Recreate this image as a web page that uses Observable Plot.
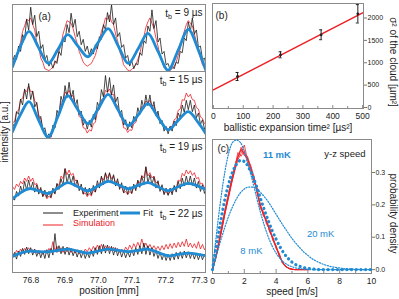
<!DOCTYPE html>
<html><head><meta charset="utf-8">
<script src="https://cdn.jsdelivr.net/npm/d3@7"></script>
<script src="https://cdn.jsdelivr.net/npm/@observablehq/plot@0.6"></script>
<style>
body{margin:0;background:#fff;}
#root{position:relative;width:399px;height:299px;overflow:hidden;background:#fff;font-family:"Liberation Sans",Arial,Helvetica,sans-serif;}
#root svg{overflow:visible;}
#root text, #root tspan{font-family:"Liberation Sans",Arial,Helvetica,sans-serif;}
.abs{position:absolute;}
#pb [aria-label="y-axis tick label"], #pc [aria-label="y-axis tick label"]{font-size:7px;}
[aria-label="y-axis tick"], [aria-label="x-axis tick"]{color:#777;}
</style></head><body>
<div id="root">
 <div id="pa" class="abs" style="left:0;top:0"></div>
 <div id="pb" class="abs" style="left:200px;top:0"></div>
 <div id="pc" class="abs" style="left:200px;top:135px"></div>
 <svg id="ov" class="abs" style="left:0;top:0;pointer-events:none" width="399" height="299"></svg>
</div>
<script>
const FONT = '"Liberation Sans", Arial, Helvetica, sans-serif';
const BLUE = "#1f8bd3";
const RED = "#ec2027";
const GRAY = "#8a8a8a";

// ---------- Panel (a): intensity vs position ----------
const tbLabels = ["9", "15", "19", "22"];
const posDomain = [76.745, 77.318];
const posTicks = [76.8, 76.9, 77.0, 77.1, 77.2, 77.3];
const posGrid = [
76.745,76.751,76.757,76.763,76.769,76.775,76.781,76.787,76.793,76.799,
76.805,76.811,76.817,76.823,76.829,76.835,76.841,76.847,76.853,76.859,
76.865,76.871,76.877,76.883,76.889,76.895,76.901,76.907,76.913,76.919,
76.925,76.931,76.937,76.943,76.949,76.955,76.961,76.967,76.973,76.979,
76.985,76.991,76.997,77.003,77.009,77.015,77.021,77.027,77.033,77.039,
77.045,77.051,77.057,77.063,77.069,77.075,77.081,77.087,77.093,77.099,
77.105,77.111,77.117,77.123,77.129,77.135,77.141,77.147,77.153,77.159,
77.165,77.171,77.177,77.183,77.189,77.195,77.201,77.207,77.213,77.219,
77.225,77.231,77.237,77.243,77.249,77.255,77.261,77.267,77.273,77.279,
77.285,77.291,77.297,77.303,77.309,77.315,77.321];

const exp9 = [
14,24,18,38,30,55,48,78,62,96, 70,84,52,60,34,40,18,24,8,14,
5,16,12,30,24,48,44,70,58,87, 66,78,52,60,40,48,30,38,24,34,
26,40,34,52,48,70,62,88,74,100, 70,80,52,58,36,40,20,24,8,16,
4,12,10,28,24,46,42,68,60,92, 64,76,44,50,26,30,10,12,2,8,
4,14,12,30,28,50,46,74,60,80, 56,62,36,38,18,20,6];
const sim9 = [
8,14,22,34,44,60,68,78,76,80, 70,62,44,36,20,14,4,3,1,4,
6,12,16,30,40,56,66,76,74,72, 64,52,42,30,22,14,10,8,10,12,
18,24,36,46,60,68,80,78,84,74, 70,56,46,30,22,10,6,2,1,3,
6,10,18,26,42,52,66,74,80,72, 64,50,38,24,16,6,3,1,2,4,
8,14,24,34,48,60,70,76,72,68, 56,44,30,20,10,6,3];
const exp15 = [
23,17,40,36,59,50,74,59,82,58, 71,47,54,29,33,12,16,2,7,2,
20,16,42,35,63,53,79,61,84,60, 72,48,58,35,41,20,28,14,27,17,
36,28,54,46,73,62,94,69,91,65, 80,54,62,37,42,20,28,13,25,16,
33,26,46,36,57,45,65,49,65,44, 55,34,41,22,27,11,18,7,18,11,
26,19,38,31,50,39,57,43,57,40, 50,31,38,21,28,14,20];
const sim15 = [
24,25,40,42,58,60,72,70,78,70, 70,56,52,35,29,13,9,1,2,2,
13,17,33,38,54,57,69,67,72,63, 64,50,48,33,30,16,15,8,13,11,
22,24,40,43,58,60,72,69,74,65, 66,52,49,34,30,16,15,9,13,12,
22,24,35,37,48,48,56,53,57,49, 49,38,37,26,25,16,17,13,18,18,
28,30,42,44,58,57,68,62,66,58, 57,46,44,32,30,22,22];
const exp19 = [
14,8,21,14,29,19,36,23,38,24, 35,20,31,17,27,13,23,12,21,12,
26,17,33,24,40,30,55,33,47,32, 44,28,38,22,32,17,27,15,26,16,
30,20,37,26,44,31,49,34,49,34, 46,29,40,24,34,19,29,17,28,18,
32,22,38,27,44,31,58,33,46,31, 43,26,37,21,31,16,26,15,26,16,
30,20,36,25,41,29,44,31,44,30, 41,26,36,21,31,18,27];
const sim19 = [
28,24,32,28,36,32,41,36,44,36, 41,31,33,23,24,14,17,10,14,11,
21,19,32,30,44,40,55,46,53,45, 48,37,38,27,27,17,19,13,18,14,
23,20,32,30,42,38,48,41,48,40, 44,34,36,27,28,19,21,16,21,18,
28,25,36,34,45,41,57,44,49,41, 44,34,35,25,26,18,21,16,21,19,
28,26,38,36,48,44,53,47,52,45, 49,40,42,32,33,26,28];
const exp22 = [
22,30,20,32,24,36,27,38,28,37, 26,35,24,33,22,32,21,34,22,36,
26,58,30,40,28,39,27,38,26,36, 25,34,23,33,22,31,21,30,22,33,
24,37,27,40,28,42,29,41,28,39, 26,37,25,34,23,32,22,31,23,34,
25,37,27,40,28,44,27,40,26,37, 24,33,21,30,19,28,18,27,18,28,
19,30,20,31,21,32,22,31,21,30, 20,29,19,28,19,27,20];
const sim22 = [
28,25,33,29,35,30,36,32,37,31, 34,29,33,28,31,27,33,29,36,31,
46,33,39,31,37,30,36,31,37,30, 35,29,34,28,33,29,35,31,37,32,
39,33,41,34,42,34,40,33,39,32, 38,31,36,30,35,31,38,33,41,35,
43,37,45,38,50,38,44,36,42,35, 40,34,39,33,40,34,42,35,43,36,
44,37,45,38,46,39,50,38,44,37, 43,36,46,35,42,34,39];

const posFit = [76.745,76.769,76.794,76.822,76.851,76.880,76.909,76.939,76.969,76.999,
77.029,77.059,77.089,77.118,77.147,77.177,77.207,77.237,77.267,77.296,77.318];
const fit9  = [7,38,60,36,12,33,55,38,22,43,64,38,12,34,57,30,2,32,63,33,3];
const fit15 = [10,36,55,28,2,33,64,43,22,44,66,42,19,35,52,32,13,27,40,24,8];
const fit19 = [10,19,25,22,18,26,34,28,22,29,36,31,25,30,34,28,22,28,33,29,24];
const fit22 = [24,29,32,31,31,33,35,32,29,32,35,33,31,33,35,30,25,27,29,27,25];

// ---------- Panel (b): sigma^2 vs t^2 ----------
const tSq = [81, 225, 361, 484];
const sigma2 = [693, 1178, 1625, 2094];
const sigma2Err = [90, 67, 110, 205];
const fitTSq = [0, 500];
const fitSigma2 = [396, 2116];
const bXTicks = [0, 100, 200, 300, 400, 500];
const bXMinor = [50, 150, 250, 350, 450];
const bYTicks = [0, 500, 1000, 1500, 2000];

// ---------- Panel (c): speed distributions ----------
const speedGrid = [0,0.25,0.5,0.75,1,1.25,1.5,1.75,2,2.25,2.5,2.75,3,3.25,3.5,3.75,4,4.25,4.5,4.75,
5,5.25,5.5,5.75,6,6.25,6.5,6.75,7,7.25,7.5,7.75,8,8.25,8.5,8.75,9,9.25,9.5,9.75,10];
const mb8 = [0,0.110,0.210,0.294,0.356,0.392,0.400,0.393,0.365,0.325,0.277,0.228,0.180,0.138,0.102,0.073,0.051,0.034,0.022,0.014,
0.009,0.005,0.003,0.002,0.001,0,0,0,0,0,0,0,0,0,0,0,0,0,0,0,0];
const mb11 = [0,0.075,0.145,0.21,0.262,0.30,0.325,0.337,0.334,0.318,0.292,0.26,0.222,0.186,0.152,0.121,0.094,0.07,0.05,0.035,
0.023,0.015,0.01,0.006,0.004,0.002,0.001,0,0,0,0,0,0,0,0,0,0,0,0,0,0];
const mb20 = [0,0.044,0.087,0.127,0.163,0.193,0.218,0.237,0.249,0.255,0.255,0.250,0.239,0.226,0.210,0.191,0.171,0.151,0.132,0.114,
0.096,0.081,0.067,0.054,0.044,0.034,0.027,0.021,0.016,0.012,0.009,0.007,0.005,0.003,0.002,0.002,0.001,0.001,0,0,0];
const simSpeed = [0,0.2,0.4,0.6,0.8,1,1.2,1.4,1.6,1.8,2,2.2,2.4,2.6,2.8,3,3.2,3.4,3.6,3.8,4,4.2,4.4,4.6,4.8,5,5.2,5.4,5.6,5.8,6];
const simRun1 = [0,0.04,0.09,0.14,0.19,0.235,0.28,0.32,0.35,0.37,0.36,0.345,0.31,0.28,0.245,0.2,0.17,0.15,0.12,0.095,0.07,0.045,0.022,0.01,0.004,0.001,0,0,0,0,0];
const simRun2 = [0,0.033,0.08,0.128,0.178,0.222,0.272,0.312,0.345,0.378,0.352,0.35,0.318,0.27,0.25,0.19,0.175,0.14,0.125,0.09,0.075,0.04,0.025,0.008,0.005,0.001,0,0,0,0,0];
const simRun3 = [0,0.038,0.085,0.135,0.185,0.23,0.275,0.318,0.362,0.35,0.368,0.33,0.305,0.285,0.24,0.205,0.165,0.155,0.115,0.1,0.065,0.05,0.02,0.012,0.003,0.002,0,0,0,0,0];
const simRun4 = [0,0.036,0.082,0.13,0.18,0.225,0.268,0.305,0.34,0.36,0.385,0.34,0.315,0.275,0.255,0.195,0.18,0.145,0.13,0.092,0.068,0.042,0.024,0.009,0.004,0,0,0,0,0,0];
const simRun5 = [0,0.034,0.078,0.126,0.176,0.22,0.265,0.308,0.35,0.372,0.355,0.342,0.322,0.29,0.235,0.2,0.172,0.148,0.118,0.098,0.072,0.048,0.02,0.011,0.003,0.001,0,0,0,0,0];
const cXTicks = [0, 2, 4, 6, 8, 10];
const cXMinor = [1, 3, 5, 7, 9];
const cYTicks = [0, 0.1, 0.2, 0.3];
const tempLabels = ["8 mK", "11 mK", "20 mK"];
const tempLabelX = [2.45, 4.05, 6.8];
const tempLabelY = [0.058, 0.355, 0.11];
const tempLabelBold = [false, true, false];

// ---------- build tables ----------
const expBy = {"9": exp9, "15": exp15, "19": exp19, "22": exp22};
const simBy = {"9": sim9, "15": sim15, "19": sim19, "22": sim22};
const fitBy = {"9": fit9, "15": fit15, "19": fit19, "22": fit22};
const rows = (grid, by) => tbLabels.flatMap(tb => by[tb].map((v, i) => ({tb, pos: grid[i], v})));
const expRows = rows(posGrid, expBy);
const simRows = rows(posGrid, simBy);
const fitRows = rows(posFit, fitBy);
const tbRows = tbLabels.map(tb => ({tb, label: "t_b = " + tb + " µs"}));

const plotA = Plot.plot({
  width: 212, height: 299,
  marginLeft: 12, marginRight: 7, marginTop: 3, marginBottom: 26,
  style: {fontFamily: FONT, fontSize: "8.5px", color: "#222", background: "transparent"},
  x: {domain: posDomain, ticks: posTicks, tickFormat: d3.format(".1f"), tickSize: 0, tickPadding: 4, label: null},
  y: {domain: [0, 100], axis: null},
  fy: {domain: tbLabels, axis: null, padding: 0},
  marks: [
    Plot.line(simRows, {x: "pos", y: "v", fy: "tb", stroke: RED, strokeWidth: 0.8, clip: true}),
    Plot.line(expRows, {x: "pos", y: "v", fy: "tb", stroke: "#1a1a1a", strokeWidth: 0.8, clip: true}),
    Plot.line(fitRows, {x: "pos", y: "v", fy: "tb", stroke: BLUE, strokeWidth: 2.8, curve: "catmull-rom", clip: true}),
    Plot.frame({stroke: GRAY}),
    Plot.text(tbRows, {fy: "tb", text: "label", frameAnchor: "top-right", lineAnchor: "middle", dx: -3, dy: 9, fontSize: 10}),
    Plot.text([{tb: "9", label: "(a)"}], {fy: "tb", text: "label", frameAnchor: "top-left", lineAnchor: "middle", textAnchor: "start", dx: 26, dy: 12, fontSize: 10}),
    Plot.text([{tb: "22", label: "position [mm]"}], {fy: "tb", text: "label", frameAnchor: "bottom", lineAnchor: "middle", dy: 18, fontSize: 10})
  ]
});
document.getElementById("pa").appendChild(plotA);

// subscript b in t_b
d3.select(plotA).selectAll("text").each(function() {
  const s = this.textContent;
  if (s.startsWith("t_b")) {
    const el = d3.select(this);
    el.text(null);
    el.append("tspan").text("t");
    el.append("tspan").attr("dy", "0.3em").attr("font-size", "70%").text("b");
    el.append("tspan").attr("dy", "-0.3em").text(s.slice(3));
  }
});

const pointsB = tSq.map((t, i) => ({t, s: sigma2[i], e: sigma2Err[i]}));
const fitB = fitTSq.map((t, i) => ({t, s: fitSigma2[i]}));
const plotB = Plot.plot({
  width: 199, height: 135,
  marginLeft: 12, marginRight: 36, marginTop: 3, marginBottom: 27,
  style: {fontFamily: FONT, fontSize: "8.5px", color: "#222", background: "transparent"},
  x: {domain: [-3, 503], ticks: bXTicks, tickFormat: d3.format("d"), tickSize: 0, tickPadding: 4, label: null},
  y: {domain: [-22, 2324], axis: "right", ticks: bYTicks, tickFormat: d3.format("d"), tickSize: 3, tickPadding: 1, label: null},
  marks: [
    Plot.frame({stroke: GRAY}),
    Plot.tickX(bXTicks, {x: d => d, insetTop: 102, stroke: GRAY}),
    Plot.tickX(bXMinor, {x: d => d, insetTop: 103, stroke: GRAY}),
    Plot.line(fitB, {x: "t", y: "s", stroke: RED, strokeWidth: 1.5}),
    Plot.ruleX(pointsB, {x: "t", y1: d => d.s - d.e, y2: d => d.s + d.e, stroke: "#222", strokeWidth: 1}),
    Plot.ruleY(pointsB, {y: d => d.s - d.e, x1: d => d.t - 5, x2: d => d.t + 5, stroke: "#222", strokeWidth: 1}),
    Plot.ruleY(pointsB, {y: d => d.s + d.e, x1: d => d.t - 5, x2: d => d.t + 5, stroke: "#222", strokeWidth: 1}),
    Plot.dot(pointsB, {x: "t", y: "s", r: 1.4, fill: "#222"}),
    Plot.text(["(b)"], {text: d => d, frameAnchor: "top-left", textAnchor: "start", lineAnchor: "middle", dx: 3, dy: 12, fontSize: 10}),
    Plot.text(["σ² of the cloud [µm²]"], {text: d => d, frameAnchor: "right", textAnchor: "middle", lineAnchor: "middle", rotate: 90, dx: 30, dy: 6, fontSize: 10}),
    Plot.text(["ballistic expansion time² [µs²]"], {text: d => d, frameAnchor: "bottom", lineAnchor: "middle", dy: 19, fontSize: 10})
  ]
});
document.getElementById("pb").appendChild(plotB);

const simRuns = [simRun1, simRun2, simRun3, simRun4, simRun5];
const simCRows = simRuns.flatMap((run, k) => run.map((p, i) => ({run: k, v: simSpeed[i], p})));
const mbRows = arr => arr.map((p, i) => ({v: speedGrid[i], p}));
const annC = tempLabels.map((t, i) => ({t, x: tempLabelX[i], y: tempLabelY[i], bold: tempLabelBold[i]}));
const plotC = Plot.plot({
  width: 199, height: 164,
  marginLeft: 12, marginRight: 28, marginTop: 4, marginBottom: 26,
  style: {fontFamily: FONT, fontSize: "8.5px", color: "#222", background: "transparent"},
  x: {domain: [0, 10], ticks: cXTicks, tickSize: 0, tickPadding: 4, label: null},
  y: {domain: [-0.012, 0.402], axis: "right", ticks: cYTicks, tickFormat: d3.format(".1f"), tickSize: 3, tickPadding: 1, label: null},
  marks: [
    Plot.frame({stroke: GRAY}),
    Plot.tickX(cXTicks, {x: d => d, insetTop: 130, stroke: GRAY}),
    Plot.tickX(cXMinor, {x: d => d, insetTop: 132, stroke: GRAY}),
    Plot.line(simCRows, {x: "v", y: "p", z: "run", stroke: RED, strokeWidth: 0.8}),
    Plot.line(mbRows(mb8), {x: "v", y: "p", stroke: BLUE, strokeWidth: 1.2, strokeDasharray: "1.2,1.6", curve: "monotone-x"}),
    Plot.line(mbRows(mb20), {x: "v", y: "p", stroke: BLUE, strokeWidth: 1.2, strokeDasharray: "1.2,1.6", curve: "monotone-x"}),
    Plot.line(mbRows(mb11), {x: "v", y: "p", stroke: BLUE, strokeWidth: 3.2, strokeDasharray: "0.1,4.6", strokeLinecap: "round", curve: "monotone-x"}),
    Plot.text(annC.filter(d => !d.bold), {x: "x", y: "y", text: "t", fill: BLUE, fontSize: 9.5}),
    Plot.text(annC.filter(d => d.bold), {x: "x", y: "y", text: "t", fill: BLUE, fontSize: 9.5, fontWeight: "bold"}),
    Plot.text(["y-z speed"], {text: d => d, frameAnchor: "top-right", textAnchor: "end", lineAnchor: "middle", dx: -6, dy: 14, fontSize: 9.5}),
    Plot.text(["(c)"], {text: d => d, frameAnchor: "top-left", textAnchor: "start", lineAnchor: "middle", dx: 5, dy: 9, fontSize: 10}),
    Plot.text(["probability density"], {text: d => d, frameAnchor: "right", textAnchor: "middle", lineAnchor: "middle", rotate: 90, dx: 22, dy: 7, fontSize: 10}),
    Plot.text(["speed [m/s]"], {text: d => d, frameAnchor: "bottom", lineAnchor: "middle", dy: 18.5, fontSize: 10})
  ]
});
document.getElementById("pc").appendChild(plotC);

// overlay: rotated y title of (a) and the legend of (a)
const ov = d3.select("#ov").attr("font-family", FONT);
ov.append("text").attr("transform", "translate(5,132) rotate(-90)").attr("text-anchor", "middle")
  .attr("dominant-baseline", "middle").attr("font-size", 10).attr("fill", "#222").text("intensity [a.u.]");
const leg = ov.append("g");
leg.append("line").attr("x1", 43).attr("x2", 63).attr("y1", 213).attr("y2", 213).attr("stroke", "#1a1a1a").attr("stroke-width", 1);
leg.append("text").attr("x", 73).attr("y", 216).attr("font-size", 9).attr("fill", "#222").text("Experiment");
leg.append("line").attr("x1", 43).attr("x2", 63).attr("y1", 225).attr("y2", 225).attr("stroke", RED).attr("stroke-width", 1);
leg.append("text").attr("x", 73).attr("y", 226).attr("font-size", 9).attr("fill", RED).text("Simulation");
leg.append("line").attr("x1", 120).attr("x2", 140).attr("y1", 213).attr("y2", 213).attr("stroke", BLUE).attr("stroke-width", 3);
leg.append("text").attr("x", 143).attr("y", 216).attr("font-size", 9).attr("fill", "#222").text("Fit");
</script>
</body></html>
